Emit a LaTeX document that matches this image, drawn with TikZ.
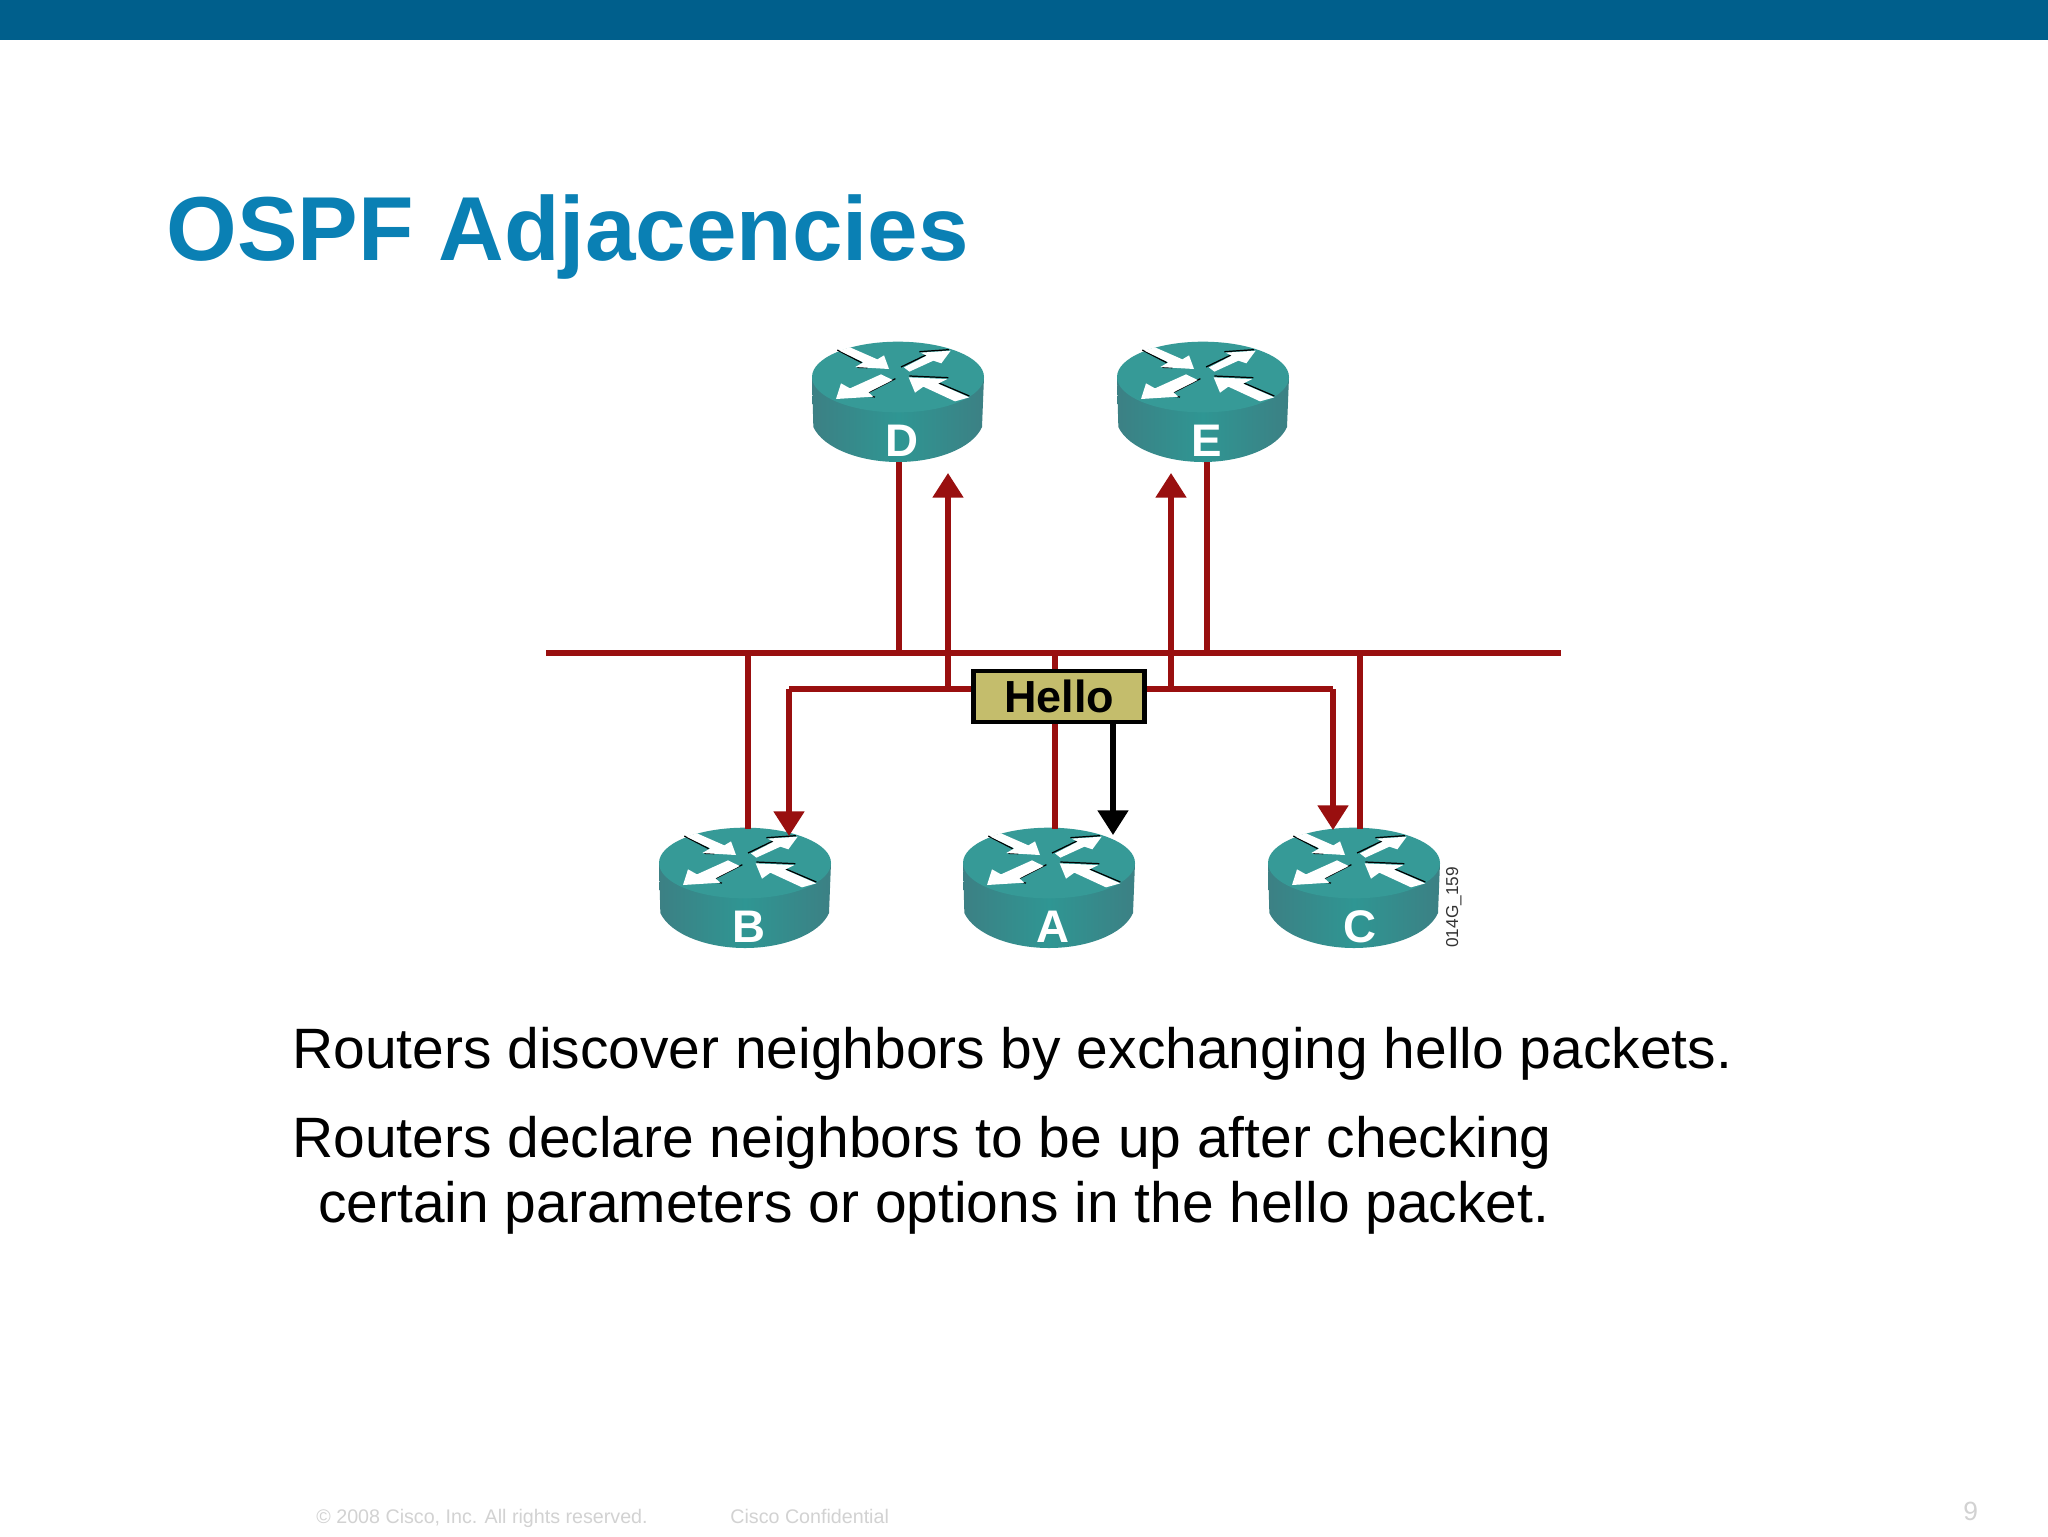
\documentclass[tikz,border=0pt]{standalone}
\usepackage{fontspec}
\setmainfont{Liberation Sans}
\usetikzlibrary{arrows.meta,calc}
\definecolor{barblue}{HTML}{005F8C}
\definecolor{titleblue}{HTML}{0A80B4}
\definecolor{wire}{HTML}{990F0F}
\definecolor{rtop}{HTML}{369A97}
\definecolor{rside}{HTML}{2F9693}
\definecolor{redge}{HTML}{3C8084}
\definecolor{hellofill}{HTML}{C4BD6C}
\definecolor{foot}{HTML}{D2D2D2}
\tikzset{
  wireline/.style={draw=wire,line width=3pt},
  wirearrow/.style={wireline,-{Triangle[width=17pt,length=14pt]}},
  blackarrow/.style={draw=black,line width=2.9pt,-{Triangle[width=17pt,length=14pt]}},
  routerbox/.style={minimum width=3.44cm,minimum height=2.4cm,inner sep=0pt,outer sep=0pt},
  routerlabel/.style={text=white,font=\fontsize{26}{26}\selectfont\bfseries,anchor=base},
  arrowwhite/.style={fill=white,draw=none},
  arrowedge/.style={draw=black,line width=0.7pt},
  bodytext/.style={font=\fontsize{32.4}{36}\selectfont,anchor=base west,inner sep=0pt},
  foottext/.style={text=foot,font=\fontsize{11.2}{13}\selectfont,anchor=base west,inner sep=0pt}
}
\newcommand{\routerdraw}[4]{%
  \begin{scope}[shift={(#1,#2)},x=0.02cm/3,y=-0.02cm/3,shift={(-354,-171)}]
    \shade[left color=redge,right color=redge,middle color=rside]
      (96,171) -- (100,321) .. controls (130,385) and (240,426) .. (354,426)
      .. controls (468,426) and (578,385) .. (606,321) -- (612,171) -- cycle;
    \fill[rtop] (354,171) ellipse[x radius=258,y radius=106];
    \draw[arrowedge] (172,90)--(245,128) (232,142)--(262,143);
    \fill[arrowwhite] (210,82)--(292,118)--(312,106)--(327,147)--(226,141)--(250,127)--(178,92)--cycle;
    \draw[arrowedge] (363,141)--(442,103) (418,95)--(507,89);
    \fill[arrowwhite] (388,155)--(460,122)--(484,130)--(512,92)--(422,98)--(440,107)--(372,142)--cycle;
    \draw[arrowedge] (346,176)--(262,219) (262,228)--(285,231);
    \fill[arrowwhite] (338,180)--(265,217)--(280,230)--(168,237)--(183,190)--(210,205)--(303,163)--cycle;
    \draw[arrowedge] (388,168)--(505,173) (474,188)--(568,228);
    \fill[arrowwhite] (386,172)--(502,177)--(474,191)--(568,232)--(525,244)--(430,200)--(405,218)--cycle;
  \end{scope}
  \node[routerlabel] at ($(#1,#2)+(#4,79)$) {#3};
  \node[routerbox] (#3) at ($(#1,#2)+(0,25)$) {};
}
\begin{document}
\begin{tikzpicture}[x=0.02cm,y=-0.02cm]
\useasboundingbox (0,0) rectangle (2048,1536);
\fill[white] (0,0) rectangle (2048,1536);
\fill[barblue] (0,0) rectangle (2048,39.5);
\node[anchor=base west,inner sep=0pt,text=titleblue,font=\fontsize{51.7}{60}\selectfont\bfseries] (title) at (166,260) {OSPF Adjacencies};

\routerdraw{898}{377}{D}{4}
\routerdraw{1203}{377}{E}{4}
\routerdraw{745}{863}{B}{4}
\routerdraw{1049}{863}{A}{4}
\routerdraw{1354}{863}{C}{6}

\coordinate (busW) at (546,653);
\coordinate (busE) at (1561,653);
\coordinate (lineW) at (789,689);
\coordinate (lineE) at (1333,689);
\coordinate (busD) at (899,653);
\coordinate (busE2) at (1207,653);
\coordinate (busB) at (748,653);
\coordinate (busA) at (1055,653);
\coordinate (busC) at (1360,653);
\coordinate (lineDup) at (948,689);
\coordinate (lineEup) at (1171,689);
\coordinate (tipD) at (948,473);
\coordinate (tipE) at (1171,473);
\coordinate (tipB) at (789,836);
\coordinate (tipC) at (1333,830);
\coordinate (tipA) at (1113,835);
\coordinate (topB) at (748,829);
\coordinate (topA) at (1055,829);
\coordinate (topC) at (1360,829);

\draw[wireline] (busW) -- (busE);
\draw[wireline] (busD) -- (busD |- D.south);
\draw[wireline] (busE2) -- (busE2 |- E.south);
\draw[wireline] (busB) -- (topB);
\draw[wireline] (busC) -- (topC);
\draw[wireline] (busA) -- (topA);
\draw[wirearrow] (lineDup) -- (tipD);
\draw[wirearrow] (lineEup) -- (tipE);
\draw[wirearrow] (lineE) -- (tipC);
\draw[wirearrow] (lineW) -- (tipB);
\draw[wireline] (lineW) -- (lineE);

\node[draw=black,line width=2.4pt,fill=hellofill,minimum width=3.42cm,minimum height=1.02cm,inner sep=0pt,font=\fontsize{25.6}{28}\selectfont\bfseries] (hello) at (1059,696.5) {Hello};
\draw[blackarrow] (hello.south -| tipA) -- (tipA);

\node[bodytext] (l1) at (292,1068) {Routers discover neighbors by exchanging hello packets.};
\node[bodytext] (l2) at (292,1157) {Routers declare neighbors to be up after checking};
\node[bodytext] (l3) at (318,1222) {certain parameters or options in the hello packet.};

\node[rotate=90,anchor=base west,inner sep=0pt,font=\fontsize{9.8}{11}\selectfont,text=black!80] (code) at (1458,948) {014G\_159};

\node[foottext] (f1) at (316,1523) {© 2008 Cisco, Inc. All rights reserved.};
\node[foottext] (f2) at (730,1523) {Cisco Confidential};
\node[foottext,font=\fontsize{15}{17}\selectfont] (pg) at (1963,1520) {9};
\end{tikzpicture}
\end{document}
